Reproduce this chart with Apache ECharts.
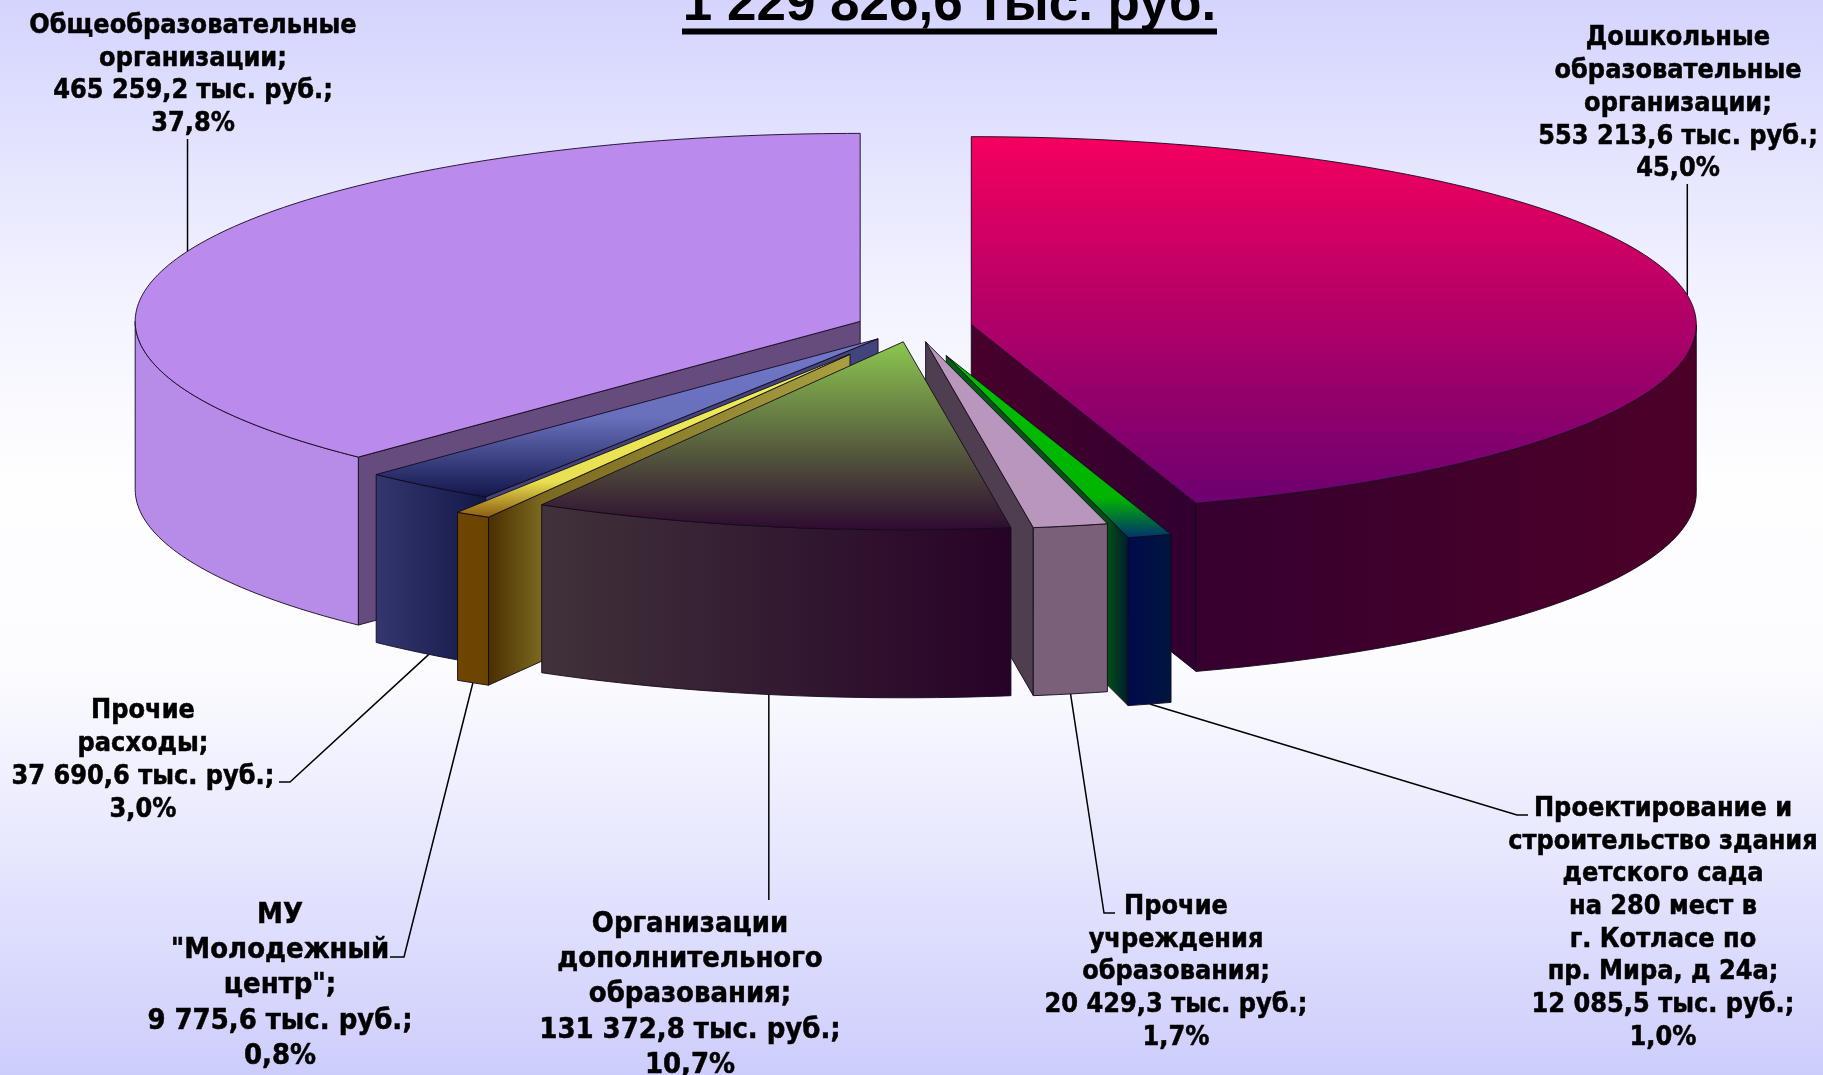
<!DOCTYPE html>
<html><head><meta charset="utf-8">
<style>html,body{margin:0;padding:0;background:#fff}#c{width:1823px;height:1075px}</style>
<script src="https://cdn.jsdelivr.net/npm/echarts@6/dist/echarts.min.js"></script>
</head><body><div id="c"></div>
<script>
// ---- data, clockwise from 12 o'clock ----
const categories = ['Дошкольные\nобразовательные\nорганизации;',
  'Проектирование и\nстроительство здания\nдетского сада\nна 280 мест в\nг. Котласе по\nпр. Мира, д 24а;',
  'Прочие\nучреждения\nобразования;',
  'Организации\nдополнительного\nобразования;',
  'МУ\n"Молодежный\nцентр";',
  'Прочие\nрасходы;',
  'Общеобразовательные\nорганизации;'];
const values = [553213.6, 12085.5, 20429.3, 131372.8, 9775.6, 37690.6, 465259.2];
const percents = ['45,0%', '1,0%', '1,7%', '10,7%', '0,8%', '3,0%', '37,8%'];
const titleText = '1 229 826,6 тыс. руб.';

// ---- pseudo-3D pie layout ----
const pie = {cx: 914, cy: 327, a: 725, b: 188, depth: 168};
const explode = [58, 115, 58, 58, 123, 58, 58];

// ---- face colours ----
const faceStyles = [
  {top: [[0, '#F5005F'], [1, '#6C0070']], wall: [[0, '#36002F'], [1, '#4C0028']], edge: [[0, '#48002C'], [1, '#300030']]},
  {top: [[0, '#00C000'], [.78, '#00B400'], [1, '#003070']], wall: [[0, '#000A4C'], [1, '#00163E']], edge: [[0, '#006012'], [.885, '#005014'], [1, '#001A30']]},
  {top: [[0, '#B996BC'], [1, '#B996BC']], wall: [[0, '#7A6078'], [1, '#7A6078']], edge: [[0, '#4E3E50'], [1, '#4E3E50']]},
  {top: [[0, '#8CC850'], [1, '#2E0A30']], wall: [[0, '#40323A'], [1, '#270228']], edge: [[0, '#40323A'], [1, '#40323A']]},
  {top: [[0, '#F0F060'], [.78, '#E8E050'], [1, '#8A5C10']], wall: [[0, '#704600'], [1, '#6A4400']], edge: [[0, '#4A2E00'], [.15, '#7A6A20'], [1, '#A8A040']]},
  {top: [[0, '#7078C8'], [.5, '#6870BC'], [1, '#12164A']], wall: [[0, '#34366E'], [1, '#141848']], edge: [[0, '#42447C'], [1, '#42447C']]},
  {top: [[0, '#BA8AEC'], [1, '#BA8AEC']], wall: [[0, '#B68CE8'], [1, '#B68CE8']], edge: [[0, '#664B7F'], [1, '#664B7F']]}
];

// ---- label placement ----
const labelFont = 'bold {s}px "DejaVu Sans Condensed","DejaVu Sans",sans-serif';
const labelBoxes = [
  {x: 1678, y: 38.5, s: 26.8, lh: 32.7, leadY: 184},
  {x: 1663, y: 809, s: 26.8, lh: 32.7, lead: [[1517, 815], [1528, 815]]},
  {x: 1176, y: 907, s: 26.8, lh: 32.7, lead: [[1104, 913], [1115, 913]]},
  {x: 690, y: 924.5, s: 28.9, lh: 35.2, leadY: 900},
  {x: 280, y: 915.5, s: 28.9, lh: 35.2, lead: [[404, 957], [390, 957]]},
  {x: 143, y: 711.5, s: 26.8, lh: 32.7, lead: [[290, 782], [279, 782]]},
  {x: 193, y: 26, s: 26.8, lh: 32.7, leadY: 139}
];

function fmtValue(v) {
  const [i, d] = v.toFixed(1).split('.');
  return i.replace(/\B(?=(\d{3})+$)/g, ' ') + ',' + d + ' тыс. руб.;';
}
const total = values.reduce((s, v) => s + v, 0);
let acc = 0;
const slices = values.map((v, i) => {
  const s = acc / total * 360; acc += v; const e = acc / total * 360;
  const m = (s + e) / 2, r = m * Math.PI / 180;
  return {i, s, e, m,
    ox: pie.cx + explode[i] * Math.sin(r),
    oy: pie.cy - explode[i] * Math.cos(r) * pie.b / pie.a};
});
const pt = (sl, deg, down) => {
  const r = deg * Math.PI / 180;
  return [sl.ox + pie.a * Math.sin(r), sl.oy - pie.b * Math.cos(r) + (down ? pie.depth : 0)];
};
const arc = (sl, from, to, down) => {
  const n = Math.max(2, Math.ceil(Math.abs(to - from)));
  const out = [];
  for (let k = 0; k <= n; k++) out.push(pt(sl, from + (to - from) * k / n, down));
  return out;
};
const stops = st => st.map(([offset, color]) => ({offset, color}));
const vgrad = st => new echarts.graphic.LinearGradient(0, 0, 0, 1, stops(st));
const hgrad = st => new echarts.graphic.LinearGradient(0, 0, 1, 0, stops(st));
const LINE = {stroke: '#14091c', lineWidth: .9};
const poly = (points, fill) => ({type: 'polygon', shape: {points}, style: Object.assign({fill}, LINE)});

function renderSlice(params, api) {
  const sl = slices[api.value(0)], st = faceStyles[sl.i], kids = [];
  const apex = [sl.ox, sl.oy], apexD = [sl.ox, sl.oy + pie.depth];
  // side walls of the cut, only those turned towards the viewer
  [[sl.s, -1], [sl.e, 1]].forEach(([deg, dir]) => {
    if (dir * Math.sin(deg * Math.PI / 180) > 0) {
      kids.push(poly([apex, pt(sl, deg), pt(sl, deg, true), apexD], hgrad(st.edge)));
    }
  });
  // rounded outer wall on the near half
  const from = Math.max(sl.s, 90), to = Math.min(sl.e, 270);
  if (to > from) {
    kids.push(poly(arc(sl, from, to).concat(arc(sl, to, from, true)), hgrad(st.wall)));
  }
  // top face
  kids.push(poly([apex].concat(arc(sl, sl.s, sl.e)), vgrad(st.top)));
  return {type: 'group', children: kids};
}

function renderLabel(params, api) {
  const i = api.value(0), sl = slices[i], box = labelBoxes[i];
  const lower = sl.m > 90 && sl.m < 270;
  const start = pt(sl, sl.m, lower);
  const lead = box.lead || [[start[0], box.leadY]];
  const txt = categories[i] + '\n' + fmtValue(values[i]) + '\n' + percents[i];
  return {type: 'group', children: [
    {type: 'polyline', shape: {points: [start].concat(lead)}, style: {fill: null, stroke: '#000', lineWidth: 1.5}},
    {type: 'text', style: {text: txt, x: box.x, y: box.y - box.lh / 2, align: 'center', verticalAlign: 'top',
      font: labelFont.replace('{s}', box.s), lineHeight: box.lh, fill: '#000', stroke: '#000', lineWidth: .5}}
  ]};
}

// painter's order: far slices first
const drawOrder = slices.slice().sort((p, q) => Math.abs(q.m - 180) - Math.abs(p.m - 180)).map(s => s.i);

const chart = echarts.init(document.getElementById('c'), null, {renderer: 'canvas'});
chart.setOption({
  animation: false,
  backgroundColor: new echarts.graphic.LinearGradient(0, 0, 0, 1, [
    {offset: 0, color: '#D4D4FE'}, {offset: .28, color: '#F3F3FF'}, {offset: .45, color: '#FEFEFF'},
    {offset: .62, color: '#FCFCFF'}, {offset: .8, color: '#E6E6FE'}, {offset: 1, color: '#CDCDFC'}]),
  title: {text: titleText, left: 949.5, top: -23, textAlign: 'center', padding: 0,
    textStyle: {fontFamily: '"Liberation Sans",Arial,sans-serif', fontWeight: 'bold', fontSize: 53, color: '#000', lineHeight: 56}},
  graphic: [{type: 'rect', shape: {x: 682, y: 28.5, width: 535, height: 6}, style: {fill: '#000'}, z: 10}],
  series: [
    {type: 'custom', coordinateSystem: 'none', silent: true, data: drawOrder.map(i => [i, values[i]]), renderItem: renderSlice, z: 2, clip: false},
    {type: 'custom', coordinateSystem: 'none', silent: true, data: values.map((v, i) => [i, v]), renderItem: renderLabel, z: 1, clip: false}
  ]
});
</script></body></html>
